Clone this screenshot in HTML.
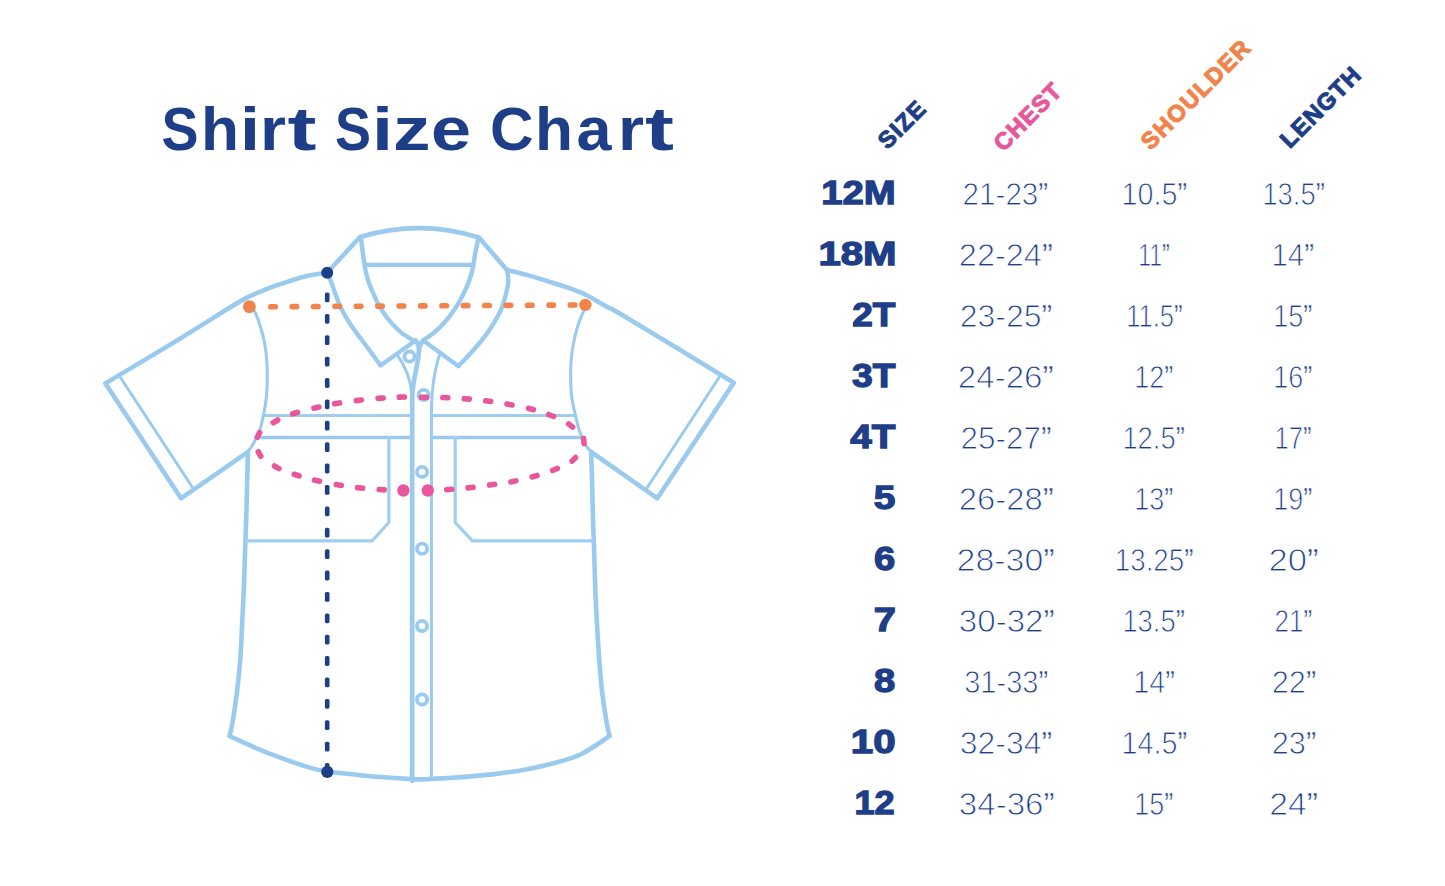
<!DOCTYPE html>
<html><head><meta charset="utf-8"><style>
html,body{margin:0;padding:0;background:#fff;}
body{width:1445px;height:886px;overflow:hidden;font-family:"Liberation Sans",sans-serif;}
svg{display:block;}
</style></head><body>
<svg width="1445" height="886" viewBox="0 0 1445 886">
<rect width="1445" height="886" fill="#fff"/>
<g fill="none" stroke="#9acbef" stroke-linecap="round" stroke-linejoin="round">
<path d="M 229.30 736.00 C 229.75 734.27 230.72 732.98 232.00 725.60 C 233.28 718.22 235.60 703.00 237.00 691.70 C 238.40 680.40 239.55 669.10 240.40 657.80 C 241.25 646.50 241.53 635.20 242.10 623.90 C 242.67 612.60 243.28 602.87 243.80 590.00 C 244.32 577.13 244.77 559.57 245.20 546.70 C 245.63 533.83 246.07 524.10 246.40 512.80 C 246.73 501.50 246.93 489.07 247.20 478.90 C 247.47 468.73 247.87 456.32 248.00 451.80 L 181 498.3 L 105.4 383.4 L 105.40 383.40 C 117.55 376.12 157.68 352.27 178.30 339.70 C 198.92 327.13 217.42 315.13 229.10 308.00 C 240.78 300.87 241.95 300.13 248.40 296.90 C 254.85 293.67 261.33 291.10 267.80 288.60 C 274.27 286.10 280.73 284.00 287.20 281.90 C 293.67 279.80 299.95 277.53 306.60 276.00 C 313.25 274.47 323.68 273.25 327.10 272.70 L 360 237 Q 419.5 219 479 237.5 L 506.8 269.8 L 506.80 269.80 C 510.52 270.77 522.17 273.67 529.10 275.60 C 536.03 277.53 541.95 279.38 548.40 281.40 C 554.85 283.42 561.65 285.52 567.80 287.70 C 573.95 289.88 578.83 291.35 585.30 294.50 C 591.77 297.65 599.82 302.82 606.60 306.60 C 613.38 310.38 604.80 304.52 626.00 317.20 C 647.20 329.88 715.83 371.78 733.80 382.70 L 657.4 498.3 L 591.1 451.8 L 591.10 451.80 C 591.25 456.32 591.72 468.73 592.00 478.90 C 592.28 489.07 592.47 501.50 592.80 512.80 C 593.13 524.10 593.58 533.83 594.00 546.70 C 594.42 559.57 594.80 577.13 595.30 590.00 C 595.80 602.87 596.37 612.60 597.00 623.90 C 597.63 635.20 598.25 646.50 599.10 657.80 C 599.95 669.10 600.75 680.40 602.10 691.70 C 603.45 703.00 605.93 718.22 607.20 725.60 C 608.47 732.98 609.28 734.27 609.70 736.00 L 609.70 736.00 C 604.92 739.03 590.38 749.67 581.00 754.20 C 571.62 758.73 562.62 760.67 553.40 763.20 C 544.18 765.73 534.93 767.67 525.70 769.40 C 516.47 771.13 507.22 772.43 498.00 773.60 C 488.78 774.77 479.62 775.60 470.40 776.40 C 461.18 777.20 450.27 777.92 442.70 778.40 C 435.13 778.88 430.12 779.18 425.00 779.30 C 419.88 779.42 419.97 779.52 412.00 779.10 C 404.03 778.68 387.60 777.65 377.20 776.80 C 366.80 775.95 357.90 774.87 349.60 774.00 C 341.30 773.13 334.33 772.75 327.40 771.60 C 320.47 770.45 315.83 769.42 308.00 767.10 C 300.17 764.78 289.62 761.12 280.40 757.70 C 271.18 754.28 261.22 750.22 252.70 746.60 C 244.18 742.98 233.20 737.77 229.30 736.00 Z" stroke-width="4.6"/>
<path d="M 361.00 238.00 C 361.35 240.83 362.42 249.98 363.10 255.00 C 363.78 260.02 364.22 263.72 365.10 268.10 C 365.98 272.48 366.97 276.92 368.40 281.30 C 369.83 285.68 371.73 290.02 373.70 294.40 C 375.67 298.78 377.58 303.22 380.20 307.60 C 382.82 311.98 385.88 316.53 389.40 320.70 C 392.92 324.87 396.92 329.08 401.30 332.60 C 405.68 336.12 413.30 340.27 415.70 341.80" stroke-width="4.4"/>
<path d="M 478.50 238.00 C 477.90 240.83 475.83 249.98 474.90 255.00 C 473.97 260.02 473.88 263.72 472.90 268.10 C 471.92 272.48 470.63 276.92 469.00 281.30 C 467.37 285.68 465.30 290.02 463.10 294.40 C 460.90 298.78 458.65 303.22 455.80 307.60 C 452.95 311.98 449.38 316.75 446.00 320.70 C 442.62 324.65 439.33 328.00 435.50 331.30 C 431.67 334.60 425.08 338.97 423.00 340.50" stroke-width="4.4"/>
<path d="M 366 264.9 Q 419.5 265 472 264.9" stroke-width="4.4"/>
<path d="M 327.60 272.80 C 328.15 274.22 329.58 277.70 330.90 281.30 C 332.22 284.90 333.85 290.02 335.50 294.40 C 337.15 298.78 338.72 303.22 340.80 307.60 C 342.88 311.98 345.27 316.32 348.00 320.70 C 350.73 325.08 354.02 329.52 357.20 333.90 C 360.38 338.28 363.22 341.73 367.10 347.00 C 370.98 352.27 378.27 362.42 380.50 365.50 L 415.5 340.5" stroke-width="4.4"/>
<path d="M 507.00 270.00 C 507.22 271.88 508.50 277.23 508.30 281.30 C 508.10 285.37 506.87 290.02 505.80 294.40 C 504.73 298.78 503.65 303.22 501.90 307.60 C 500.15 311.98 497.83 316.32 495.30 320.70 C 492.77 325.08 489.88 329.52 486.70 333.90 C 483.52 338.28 480.90 341.62 476.20 347.00 C 471.50 352.38 461.45 363.00 458.50 366.20 L 423.2 340.5" stroke-width="4.4"/>
<path d="M 415.5 340.5 Q 419 344 419 350 M 423.5 340.5 Q 419.5 344 419 350 M 419 350 C 418 368 412.2 380 412.2 398 L 412.2 781" stroke-width="4.7"/>
<path d="M 396.5 354 Q 410 372 412.2 395" stroke-width="3"/>
<path d="M 440.5 352.5 Q 432 375 431.5 410 L 431.5 776" stroke-width="3"/>
<path d="M 264 415.5 L 410.4 415.5 M 432 415.5 L 574.8 415.5" stroke-width="3.2" stroke="#a0cef0"/>
<path d="M 256.4 437.5 L 410.2 437.5 M 432 437.5 L 583 437.5" stroke-width="3.6"/>
<path d="M 246.5 540.8 L 372.1 540.8 L 388.9 522.5 L 388.9 437.5" stroke-width="3.2" stroke="#a0cef0"/>
<path d="M 455.2 437.5 L 455.2 522.5 L 472.4 540.8 L 592 540.8" stroke-width="3.2" stroke="#a0cef0"/>
<path d="M 250.00 306.00 C 250.70 306.75 252.48 307.13 254.20 310.50 C 255.92 313.87 258.55 320.67 260.30 326.20 C 262.05 331.73 263.62 337.87 264.70 343.70 C 265.78 349.53 266.37 355.37 266.80 361.20 C 267.23 367.03 267.35 372.87 267.30 378.70 C 267.25 384.53 267.08 390.38 266.50 396.20 C 265.92 402.02 264.97 407.78 263.80 413.60 C 262.63 419.42 261.38 425.85 259.50 431.10 C 257.62 436.35 254.50 441.62 252.50 445.10 C 250.50 448.58 248.33 450.85 247.50 452.00" stroke-width="3.1"/>
<path d="M 587.50 305.00 C 587.03 305.62 586.33 305.17 584.70 308.70 C 583.07 312.23 579.58 320.37 577.70 326.20 C 575.82 332.03 574.50 337.87 573.40 343.70 C 572.30 349.53 571.55 355.37 571.10 361.20 C 570.65 367.03 570.62 372.87 570.70 378.70 C 570.78 384.53 570.87 390.38 571.60 396.20 C 572.33 402.02 573.78 407.78 575.10 413.60 C 576.42 419.42 577.75 425.85 579.50 431.10 C 581.25 436.35 583.60 441.62 585.60 445.10 C 587.60 448.58 590.52 450.85 591.50 452.00" stroke-width="3.1"/>
<path d="M 119.3 375.8 L 194.2 490 M 719.2 377.2 L 645.6 490" stroke-width="3"/>
<circle cx="409.5" cy="356.6" r="5.1" stroke-width="3.8" fill="#fff"/>
<circle cx="423.7" cy="395" r="5.1" stroke-width="3.8" fill="#fff"/>
<circle cx="422.1" cy="471.9" r="5.1" stroke-width="3.8" fill="#fff"/>
<circle cx="422.1" cy="548.7" r="5.1" stroke-width="3.8" fill="#fff"/>
<circle cx="422" cy="626" r="5.1" stroke-width="3.8" fill="#fff"/>
<circle cx="422.1" cy="699.5" r="5.1" stroke-width="3.8" fill="#fff"/>
</g>
<g fill="#f1834b">
<rect x="268" y="303.9" width="10" height="5.6" rx="2.6"/>
<rect x="289.4" y="303.8" width="10" height="5.6" rx="2.6"/>
<rect x="310.8" y="303.7" width="10" height="5.6" rx="2.6"/>
<rect x="332.2" y="303.5" width="10" height="5.6" rx="2.6"/>
<rect x="353.6" y="303.4" width="10" height="5.6" rx="2.6"/>
<rect x="375" y="303.3" width="10" height="5.6" rx="2.6"/>
<rect x="396.4" y="303.2" width="10" height="5.6" rx="2.6"/>
<rect x="417.8" y="303.1" width="10" height="5.6" rx="2.6"/>
<rect x="439.2" y="302.9" width="10" height="5.6" rx="2.6"/>
<rect x="460.6" y="302.8" width="10" height="5.6" rx="2.6"/>
<rect x="482" y="302.7" width="10" height="5.6" rx="2.6"/>
<rect x="503.4" y="302.6" width="10" height="5.6" rx="2.6"/>
<rect x="524.8" y="302.4" width="10" height="5.6" rx="2.6"/>
<rect x="546.2" y="302.3" width="10" height="5.6" rx="2.6"/>
<rect x="567.6" y="302.2" width="10" height="5.6" rx="2.6"/>
<circle cx="249.4" cy="306.6" r="6.4"/><circle cx="585.4" cy="304.9" r="6.2"/>
</g>
<g fill="#e8579b">
<rect x="-5.3" y="-2.8" width="10.6" height="5.6" rx="2.6" transform="translate(258.5 434.8) rotate(-63.9)"/>
<rect x="-5.3" y="-2.8" width="10.6" height="5.6" rx="2.6" transform="translate(275.5 421.4) rotate(-30.7)"/>
<rect x="-5.3" y="-2.8" width="10.6" height="5.6" rx="2.6" transform="translate(295.1 413.1) rotate(-18.6)"/>
<rect x="-5.3" y="-2.8" width="10.6" height="5.6" rx="2.6" transform="translate(316.4 407.6) rotate(-13.0)"/>
<rect x="-5.3" y="-2.8" width="10.6" height="5.6" rx="2.6" transform="translate(337.1 403.4) rotate(-9.8)"/>
<rect x="-5.3" y="-2.8" width="10.6" height="5.6" rx="2.6" transform="translate(358.8 400.3) rotate(-6.8)"/>
<rect x="-5.3" y="-2.8" width="10.6" height="5.6" rx="2.6" transform="translate(380.6 398.2) rotate(-4.3)"/>
<rect x="-5.3" y="-2.8" width="10.6" height="5.6" rx="2.6" transform="translate(401.8 397.1) rotate(-1.2)"/>
<rect x="-5.3" y="-2.8" width="10.6" height="5.6" rx="2.6" transform="translate(423.9 397.3) rotate(0.7)"/>
<rect x="-5.3" y="-2.8" width="10.6" height="5.6" rx="2.6" transform="translate(445.3 397.6) rotate(2.1)"/>
<rect x="-5.3" y="-2.8" width="10.6" height="5.6" rx="2.6" transform="translate(466.8 398.9) rotate(4.8)"/>
<rect x="-5.3" y="-2.8" width="10.6" height="5.6" rx="2.6" transform="translate(488.2 401.2) rotate(7.5)"/>
<rect x="-5.3" y="-2.8" width="10.6" height="5.6" rx="2.6" transform="translate(509.5 404.5) rotate(10.3)"/>
<rect x="-5.3" y="-2.8" width="10.6" height="5.6" rx="2.6" transform="translate(531 409) rotate(14.8)"/>
<rect x="-5.3" y="-2.8" width="10.6" height="5.6" rx="2.6" transform="translate(551.1 415.5) rotate(22.6)"/>
<rect x="-5.3" y="-2.8" width="10.6" height="5.6" rx="2.6" transform="translate(570.6 425.5) rotate(38.1)"/>
<rect x="-5.3" y="-2.8" width="10.6" height="5.6" rx="2.6" transform="translate(583.8 441.1) rotate(84.6)"/>
<rect x="-5.3" y="-2.8" width="10.6" height="5.6" rx="2.6" transform="translate(573.8 459.3) rotate(135.5)"/>
<rect x="-5.3" y="-2.8" width="10.6" height="5.6" rx="2.6" transform="translate(555 469.4) rotate(156.7)"/>
<rect x="-5.3" y="-2.8" width="10.6" height="5.6" rx="2.6" transform="translate(534.6 476.2) rotate(163.9)"/>
<rect x="-5.3" y="-2.8" width="10.6" height="5.6" rx="2.6" transform="translate(513.4 481.4) rotate(168.7)"/>
<rect x="-5.3" y="-2.8" width="10.6" height="5.6" rx="2.6" transform="translate(492.1 484.7) rotate(171.8)"/>
<rect x="-5.3" y="-2.8" width="10.6" height="5.6" rx="2.6" transform="translate(470.6 487.6) rotate(173.6)"/>
<rect x="-5.3" y="-2.8" width="10.6" height="5.6" rx="2.6" transform="translate(449.2 489.5) rotate(176.1)"/>
<circle cx="427.8" cy="490.5" r="6.2"/>
<circle cx="403.4" cy="490.5" r="6.2"/>
<rect x="-5.3" y="-2.8" width="10.6" height="5.6" rx="2.6" transform="translate(381.7 489.7) rotate(-176.6)"/>
<rect x="-5.3" y="-2.8" width="10.6" height="5.6" rx="2.6" transform="translate(360.1 487.9) rotate(-173.7)"/>
<rect x="-5.3" y="-2.8" width="10.6" height="5.6" rx="2.6" transform="translate(338.8 485) rotate(-170.5)"/>
<rect x="-5.3" y="-2.8" width="10.6" height="5.6" rx="2.6" transform="translate(317 480.7) rotate(-166.8)"/>
<rect x="-5.3" y="-2.8" width="10.6" height="5.6" rx="2.6" transform="translate(296.6 475.1) rotate(-161.6)"/>
<rect x="-5.3" y="-2.8" width="10.6" height="5.6" rx="2.6" transform="translate(276.7 467.3) rotate(-150.4)"/>
<rect x="-5.3" y="-2.8" width="10.6" height="5.6" rx="2.6" transform="translate(259.5 454) rotate(-119.2)"/>
</g>
<g fill="#1e3f88">
<rect x="324.9" y="292.5" width="4.6" height="9.8" rx="1.6"/>
<rect x="324.9" y="313.9" width="4.6" height="9.8" rx="1.6"/>
<rect x="324.9" y="335.3" width="4.6" height="9.8" rx="1.6"/>
<rect x="324.9" y="356.7" width="4.6" height="9.8" rx="1.6"/>
<rect x="324.9" y="378.1" width="4.6" height="9.8" rx="1.6"/>
<rect x="324.9" y="399.4" width="4.6" height="9.8" rx="1.6"/>
<rect x="324.9" y="420.8" width="4.6" height="9.8" rx="1.6"/>
<rect x="324.9" y="442.2" width="4.6" height="9.8" rx="1.6"/>
<rect x="324.9" y="463.6" width="4.6" height="9.8" rx="1.6"/>
<rect x="324.9" y="485" width="4.6" height="9.8" rx="1.6"/>
<rect x="324.9" y="506.4" width="4.6" height="9.8" rx="1.6"/>
<rect x="324.9" y="527.8" width="4.6" height="9.8" rx="1.6"/>
<rect x="324.9" y="549.2" width="4.6" height="9.8" rx="1.6"/>
<rect x="324.9" y="570.6" width="4.6" height="9.8" rx="1.6"/>
<rect x="324.9" y="592" width="4.6" height="9.8" rx="1.6"/>
<rect x="324.9" y="613.4" width="4.6" height="9.8" rx="1.6"/>
<rect x="324.9" y="634.7" width="4.6" height="9.8" rx="1.6"/>
<rect x="324.9" y="656.1" width="4.6" height="9.8" rx="1.6"/>
<rect x="324.9" y="677.5" width="4.6" height="9.8" rx="1.6"/>
<rect x="324.9" y="698.9" width="4.6" height="9.8" rx="1.6"/>
<rect x="324.9" y="720.3" width="4.6" height="9.8" rx="1.6"/>
<rect x="324.9" y="741.7" width="4.6" height="9.8" rx="1.6"/>
<rect x="324.9" y="763.1" width="4.6" height="9.8" rx="1.6"/>
<circle cx="327.2" cy="272.7" r="6"/><circle cx="327.3" cy="771.9" r="6.1"/>
</g>
<text x="161.50" y="149.7" font-family="Liberation Sans" font-weight="bold" font-size="62" fill="#1e3f88" textLength="37.00" lengthAdjust="spacingAndGlyphs">S</text>
<text x="201.00" y="149.7" font-family="Liberation Sans" font-weight="bold" font-size="62" fill="#1e3f88" textLength="38.00" lengthAdjust="spacingAndGlyphs">h</text>
<text x="240.00" y="149.7" font-family="Liberation Sans" font-weight="bold" font-size="62" fill="#1e3f88" textLength="20.00" lengthAdjust="spacingAndGlyphs">i</text>
<text x="260.00" y="149.7" font-family="Liberation Sans" font-weight="bold" font-size="62" fill="#1e3f88" textLength="26.00" lengthAdjust="spacingAndGlyphs">r</text>
<text x="287.50" y="149.7" font-family="Liberation Sans" font-weight="bold" font-size="62" fill="#1e3f88" textLength="29.00" lengthAdjust="spacingAndGlyphs">t</text>
<text x="335.00" y="149.7" font-family="Liberation Sans" font-weight="bold" font-size="62" fill="#1e3f88" textLength="36.00" lengthAdjust="spacingAndGlyphs">S</text>
<text x="372.00" y="149.7" font-family="Liberation Sans" font-weight="bold" font-size="62" fill="#1e3f88" textLength="21.00" lengthAdjust="spacingAndGlyphs">i</text>
<text x="393.00" y="149.7" font-family="Liberation Sans" font-weight="bold" font-size="62" fill="#1e3f88" textLength="37.50" lengthAdjust="spacingAndGlyphs">z</text>
<text x="431.00" y="149.7" font-family="Liberation Sans" font-weight="bold" font-size="62" fill="#1e3f88" textLength="40.00" lengthAdjust="spacingAndGlyphs">e</text>
<text x="490.00" y="149.7" font-family="Liberation Sans" font-weight="bold" font-size="62" fill="#1e3f88" textLength="43.50" lengthAdjust="spacingAndGlyphs">C</text>
<text x="535.00" y="149.7" font-family="Liberation Sans" font-weight="bold" font-size="62" fill="#1e3f88" textLength="38.00" lengthAdjust="spacingAndGlyphs">h</text>
<text x="576.50" y="149.7" font-family="Liberation Sans" font-weight="bold" font-size="62" fill="#1e3f88" textLength="35.00" lengthAdjust="spacingAndGlyphs">a</text>
<text x="618.00" y="149.7" font-family="Liberation Sans" font-weight="bold" font-size="62" fill="#1e3f88" textLength="26.00" lengthAdjust="spacingAndGlyphs">r</text>
<text x="645.00" y="149.7" font-family="Liberation Sans" font-weight="bold" font-size="62" fill="#1e3f88" textLength="29.00" lengthAdjust="spacingAndGlyphs">t</text>
<text transform="translate(887.60 150.20) rotate(-45)" font-family="Liberation Sans" font-weight="bold" font-size="23.5" fill="#1e3f88" stroke="#1e3f88" stroke-width="1.1" textLength="55.95" lengthAdjust="spacing">SIZE</text>
<text transform="translate(1003.20 152.40) rotate(-45)" font-family="Liberation Sans" font-weight="bold" font-size="23.5" fill="#e8579b" stroke="#e8579b" stroke-width="1.1" textLength="84.34" lengthAdjust="spacing">CHEST</text>
<text transform="translate(1150.40 151.00) rotate(-45)" font-family="Liberation Sans" font-weight="bold" font-size="23.5" fill="#f1834b" stroke="#f1834b" stroke-width="1.1" textLength="143.23" lengthAdjust="spacing">SHOULDER</text>
<text transform="translate(1289.80 149.20) rotate(-45)" font-family="Liberation Sans" font-weight="bold" font-size="23.5" fill="#1e3f88" stroke="#1e3f88" stroke-width="1.1" textLength="102.56" lengthAdjust="spacing">LENGTH</text>
<text x="821.20" y="203.7" font-family="Liberation Sans" font-weight="bold" font-size="33.8" fill="#1e3f88" stroke="#1e3f88" stroke-width="1.3" textLength="74.40" lengthAdjust="spacingAndGlyphs">12M</text>
<text x="962.60" y="204.5" font-family="Liberation Sans" font-size="31.5" fill="#1e3f88" stroke="#fff" stroke-width="0.9" textLength="85.60" lengthAdjust="spacingAndGlyphs">21-23<tspan stroke-width="0.4">”</tspan></text>
<text x="1121.60" y="204.5" font-family="Liberation Sans" font-size="31.5" fill="#1e3f88" stroke="#fff" stroke-width="0.9" textLength="65.60" lengthAdjust="spacingAndGlyphs">10.5<tspan stroke-width="0.4">”</tspan></text>
<text x="1262.40" y="204.5" font-family="Liberation Sans" font-size="31.5" fill="#1e3f88" stroke="#fff" stroke-width="0.9" textLength="62.40" lengthAdjust="spacingAndGlyphs">13.5<tspan stroke-width="0.4">”</tspan></text>
<text x="818.40" y="264.7" font-family="Liberation Sans" font-weight="bold" font-size="33.8" fill="#1e3f88" stroke="#1e3f88" stroke-width="1.3" textLength="78.20" lengthAdjust="spacingAndGlyphs">18M</text>
<text x="958.80" y="265.5" font-family="Liberation Sans" font-size="31.5" fill="#1e3f88" stroke="#fff" stroke-width="0.9" textLength="94.00" lengthAdjust="spacingAndGlyphs">22-24<tspan stroke-width="0.4">”</tspan></text>
<text x="1138.20" y="265.5" font-family="Liberation Sans" font-size="31.5" fill="#1e3f88" stroke="#fff" stroke-width="0.9" textLength="31.60" lengthAdjust="spacingAndGlyphs">11<tspan stroke-width="0.4">”</tspan></text>
<text x="1271.40" y="265.5" font-family="Liberation Sans" font-size="31.5" fill="#1e3f88" stroke="#fff" stroke-width="0.9" textLength="42.60" lengthAdjust="spacingAndGlyphs">14<tspan stroke-width="0.4">”</tspan></text>
<text x="852.20" y="325.7" font-family="Liberation Sans" font-weight="bold" font-size="33.8" fill="#1e3f88" stroke="#1e3f88" stroke-width="1.3" textLength="43.20" lengthAdjust="spacingAndGlyphs">2T</text>
<text x="959.80" y="326.5" font-family="Liberation Sans" font-size="31.5" fill="#1e3f88" stroke="#fff" stroke-width="0.9" textLength="92.40" lengthAdjust="spacingAndGlyphs">23-25<tspan stroke-width="0.4">”</tspan></text>
<text x="1126.20" y="326.5" font-family="Liberation Sans" font-size="31.5" fill="#1e3f88" stroke="#fff" stroke-width="0.9" textLength="56.40" lengthAdjust="spacingAndGlyphs">11.5<tspan stroke-width="0.4">”</tspan></text>
<text x="1273.20" y="326.5" font-family="Liberation Sans" font-size="31.5" fill="#1e3f88" stroke="#fff" stroke-width="0.9" textLength="39.00" lengthAdjust="spacingAndGlyphs">15<tspan stroke-width="0.4">”</tspan></text>
<text x="852.00" y="386.7" font-family="Liberation Sans" font-weight="bold" font-size="33.8" fill="#1e3f88" stroke="#1e3f88" stroke-width="1.3" textLength="43.40" lengthAdjust="spacingAndGlyphs">3T</text>
<text x="957.80" y="387.5" font-family="Liberation Sans" font-size="31.5" fill="#1e3f88" stroke="#fff" stroke-width="0.9" textLength="95.80" lengthAdjust="spacingAndGlyphs">24-26<tspan stroke-width="0.4">”</tspan></text>
<text x="1134.20" y="387.5" font-family="Liberation Sans" font-size="31.5" fill="#1e3f88" stroke="#fff" stroke-width="0.9" textLength="39.00" lengthAdjust="spacingAndGlyphs">12<tspan stroke-width="0.4">”</tspan></text>
<text x="1273.20" y="387.5" font-family="Liberation Sans" font-size="31.5" fill="#1e3f88" stroke="#fff" stroke-width="0.9" textLength="39.00" lengthAdjust="spacingAndGlyphs">16<tspan stroke-width="0.4">”</tspan></text>
<text x="850.20" y="447.7" font-family="Liberation Sans" font-weight="bold" font-size="33.8" fill="#1e3f88" stroke="#1e3f88" stroke-width="1.3" textLength="45.20" lengthAdjust="spacingAndGlyphs">4T</text>
<text x="960.60" y="448.5" font-family="Liberation Sans" font-size="31.5" fill="#1e3f88" stroke="#fff" stroke-width="0.9" textLength="90.80" lengthAdjust="spacingAndGlyphs">25-27<tspan stroke-width="0.4">”</tspan></text>
<text x="1122.40" y="448.5" font-family="Liberation Sans" font-size="31.5" fill="#1e3f88" stroke="#fff" stroke-width="0.9" textLength="62.40" lengthAdjust="spacingAndGlyphs">12.5<tspan stroke-width="0.4">”</tspan></text>
<text x="1274.60" y="448.5" font-family="Liberation Sans" font-size="31.5" fill="#1e3f88" stroke="#fff" stroke-width="0.9" textLength="37.00" lengthAdjust="spacingAndGlyphs">17<tspan stroke-width="0.4">”</tspan></text>
<text x="873.80" y="508.7" font-family="Liberation Sans" font-weight="bold" font-size="33.8" fill="#1e3f88" stroke="#1e3f88" stroke-width="1.3" textLength="21.60" lengthAdjust="spacingAndGlyphs">5</text>
<text x="958.80" y="509.5" font-family="Liberation Sans" font-size="31.5" fill="#1e3f88" stroke="#fff" stroke-width="0.9" textLength="94.80" lengthAdjust="spacingAndGlyphs">26-28<tspan stroke-width="0.4">”</tspan></text>
<text x="1134.20" y="509.5" font-family="Liberation Sans" font-size="31.5" fill="#1e3f88" stroke="#fff" stroke-width="0.9" textLength="39.00" lengthAdjust="spacingAndGlyphs">13<tspan stroke-width="0.4">”</tspan></text>
<text x="1273.20" y="509.5" font-family="Liberation Sans" font-size="31.5" fill="#1e3f88" stroke="#fff" stroke-width="0.9" textLength="39.00" lengthAdjust="spacingAndGlyphs">19<tspan stroke-width="0.4">”</tspan></text>
<text x="874.00" y="569.7" font-family="Liberation Sans" font-weight="bold" font-size="33.8" fill="#1e3f88" stroke="#1e3f88" stroke-width="1.3" textLength="21.20" lengthAdjust="spacingAndGlyphs">6</text>
<text x="956.60" y="570.5" font-family="Liberation Sans" font-size="31.5" fill="#1e3f88" stroke="#fff" stroke-width="0.9" textLength="98.00" lengthAdjust="spacingAndGlyphs">28-30<tspan stroke-width="0.4">”</tspan></text>
<text x="1114.80" y="570.5" font-family="Liberation Sans" font-size="31.5" fill="#1e3f88" stroke="#fff" stroke-width="0.9" textLength="78.60" lengthAdjust="spacingAndGlyphs">13.25<tspan stroke-width="0.4">”</tspan></text>
<text x="1268.60" y="570.5" font-family="Liberation Sans" font-size="31.5" fill="#1e3f88" stroke="#fff" stroke-width="0.9" textLength="50.00" lengthAdjust="spacingAndGlyphs">20<tspan stroke-width="0.4">”</tspan></text>
<text x="873.80" y="630.7" font-family="Liberation Sans" font-weight="bold" font-size="33.8" fill="#1e3f88" stroke="#1e3f88" stroke-width="1.3" textLength="22.20" lengthAdjust="spacingAndGlyphs">7</text>
<text x="958.80" y="631.5" font-family="Liberation Sans" font-size="31.5" fill="#1e3f88" stroke="#fff" stroke-width="0.9" textLength="95.80" lengthAdjust="spacingAndGlyphs">30-32<tspan stroke-width="0.4">”</tspan></text>
<text x="1122.40" y="631.5" font-family="Liberation Sans" font-size="31.5" fill="#1e3f88" stroke="#fff" stroke-width="0.9" textLength="62.40" lengthAdjust="spacingAndGlyphs">13.5<tspan stroke-width="0.4">”</tspan></text>
<text x="1274.60" y="631.5" font-family="Liberation Sans" font-size="31.5" fill="#1e3f88" stroke="#fff" stroke-width="0.9" textLength="37.60" lengthAdjust="spacingAndGlyphs">21<tspan stroke-width="0.4">”</tspan></text>
<text x="874.00" y="691.7" font-family="Liberation Sans" font-weight="bold" font-size="33.8" fill="#1e3f88" stroke="#1e3f88" stroke-width="1.3" textLength="21.20" lengthAdjust="spacingAndGlyphs">8</text>
<text x="964.20" y="692.5" font-family="Liberation Sans" font-size="31.5" fill="#1e3f88" stroke="#fff" stroke-width="0.9" textLength="84.00" lengthAdjust="spacingAndGlyphs">31-33<tspan stroke-width="0.4">”</tspan></text>
<text x="1133.20" y="692.5" font-family="Liberation Sans" font-size="31.5" fill="#1e3f88" stroke="#fff" stroke-width="0.9" textLength="41.80" lengthAdjust="spacingAndGlyphs">14<tspan stroke-width="0.4">”</tspan></text>
<text x="1271.80" y="692.5" font-family="Liberation Sans" font-size="31.5" fill="#1e3f88" stroke="#fff" stroke-width="0.9" textLength="44.40" lengthAdjust="spacingAndGlyphs">22<tspan stroke-width="0.4">”</tspan></text>
<text x="850.80" y="752.7" font-family="Liberation Sans" font-weight="bold" font-size="33.8" fill="#1e3f88" stroke="#1e3f88" stroke-width="1.3" textLength="44.80" lengthAdjust="spacingAndGlyphs">10</text>
<text x="959.80" y="753.5" font-family="Liberation Sans" font-size="31.5" fill="#1e3f88" stroke="#fff" stroke-width="0.9" textLength="92.40" lengthAdjust="spacingAndGlyphs">32-34<tspan stroke-width="0.4">”</tspan></text>
<text x="1121.60" y="753.5" font-family="Liberation Sans" font-size="31.5" fill="#1e3f88" stroke="#fff" stroke-width="0.9" textLength="65.60" lengthAdjust="spacingAndGlyphs">14.5<tspan stroke-width="0.4">”</tspan></text>
<text x="1271.80" y="753.5" font-family="Liberation Sans" font-size="31.5" fill="#1e3f88" stroke="#fff" stroke-width="0.9" textLength="44.40" lengthAdjust="spacingAndGlyphs">23<tspan stroke-width="0.4">”</tspan></text>
<text x="854.40" y="813.7" font-family="Liberation Sans" font-weight="bold" font-size="33.8" fill="#1e3f88" stroke="#1e3f88" stroke-width="1.3" textLength="40.20" lengthAdjust="spacingAndGlyphs">12</text>
<text x="958.80" y="814.5" font-family="Liberation Sans" font-size="31.5" fill="#1e3f88" stroke="#fff" stroke-width="0.9" textLength="95.80" lengthAdjust="spacingAndGlyphs">34-36<tspan stroke-width="0.4">”</tspan></text>
<text x="1134.20" y="814.5" font-family="Liberation Sans" font-size="31.5" fill="#1e3f88" stroke="#fff" stroke-width="0.9" textLength="39.00" lengthAdjust="spacingAndGlyphs">15<tspan stroke-width="0.4">”</tspan></text>
<text x="1269.20" y="814.5" font-family="Liberation Sans" font-size="31.5" fill="#1e3f88" stroke="#fff" stroke-width="0.9" textLength="48.80" lengthAdjust="spacingAndGlyphs">24<tspan stroke-width="0.4">”</tspan></text>
</svg>
</body></html>
